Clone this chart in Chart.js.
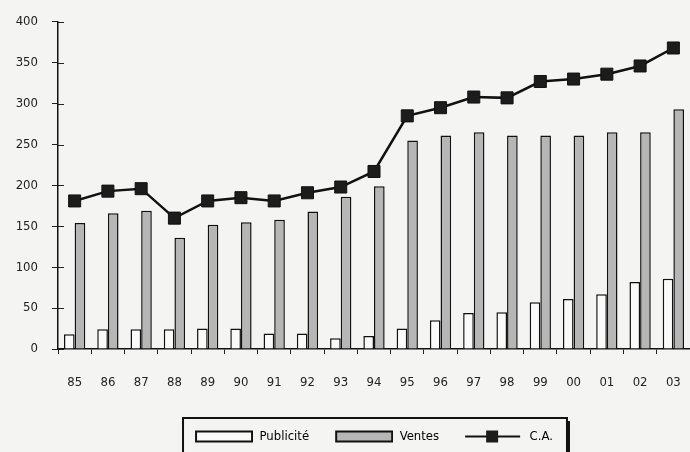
<!DOCTYPE html>
<html>
<head>
<meta charset="utf-8">
<script src="https://cdn.jsdelivr.net/npm/chart.js@4"></script>
<style>
  html, body { margin: 0; padding: 0; background: #f4f4f3; }
  canvas { display: block; }
</style>
</head>
<body>
<canvas id="chart" width="690" height="452"></canvas>
<script>
const years = ['85', '86', '87', '88', '89', '90', '91', '92', '93', '94', '95', '96', '97', '98', '99', '00', '01', '02', '03'];
const publicite = [18, 24, 24, 24, 25, 25, 19, 19, 13, 16, 25, 35, 44, 45, 57, 61, 67, 82, 86];
const ventes = [154, 166, 169, 136, 152, 155, 158, 168, 186, 199, 255, 261, 265, 261, 261, 261, 265, 265, 293];
const chiffreAffaires = [181, 193, 196, 160, 181, 185, 181, 191, 198, 217, 285, 295, 308, 307, 327, 330, 336, 346, 368];

const FONT = "'Liberation Sans Narrow', 'DejaVu Sans Condensed', sans-serif";
const GREY = '#b6b6b6';
const SWATCH_GAP = 14;

function legendSwatch(kind) {
  const c = document.createElement('canvas');
  c.width = 58 + SWATCH_GAP; c.height = 14;
  const g = c.getContext('2d');
  g.translate(SWATCH_GAP, 0);
  g.lineWidth = 2;
  g.strokeStyle = '#111';
  if (kind === 'line') {
    g.beginPath(); g.moveTo(0, 7); g.lineTo(55, 7); g.stroke();
    g.fillStyle = '#1c1c1c';
    g.fillRect(21, 1, 12, 12);
  } else {
    g.fillStyle = kind === 'white' ? '#fafafa' : GREY;
    g.fillRect(1, 2, 56, 10);
    g.strokeRect(1, 2, 56, 10);
  }
  return c;
}

// inner half of the y tick marks (ticks cross the axis in the original)
const innerTicks = {
  id: 'innerTicks',
  afterDatasetsDraw(chart) {
    const y = chart.scales.y;
    const ctx = chart.ctx;
    ctx.save();
    ctx.strokeStyle = '#222';
    ctx.lineWidth = 1;
    y.ticks.forEach(t => {
      const py = Math.round(y.getPixelForValue(t.value)) + 0.5;
      ctx.beginPath();
      ctx.moveTo(y.right, py);
      ctx.lineTo(y.right + 6, py);
      ctx.stroke();
    });
    ctx.restore();
  }
};

const legendFrame = {
  id: 'legendFrame',
  beforeInit(chart) {
    const fit = chart.legend.fit;
    chart.legend.fit = function() { fit.call(this); this.height = 34; };
  },
  afterLayout(chart) {
    chart.legend.left += 22;
    chart.legend.right += 22;
  },
  afterDraw(chart) {
    const boxes = chart.legend.legendHitBoxes;
    if (!boxes || !boxes.length) return;
    const ctx = chart.ctx;
    const x0 = boxes[0].left + SWATCH_GAP - 12;
    const last = boxes[boxes.length - 1];
    const x1 = last.left + last.width + 14;
    const y0 = chart.legend.top;
    ctx.save();
    ctx.strokeStyle = '#111';
    ctx.lineWidth = 2;
    ctx.strokeRect(x0, y0, x1 - x0, 40);
    ctx.fillStyle = '#111';
    ctx.fillRect(x1, y0 + 3, 3, 40);
    ctx.restore();
  }
};

new Chart(document.getElementById('chart'), {
  data: {
    labels: years,
    datasets: [
      {
        type: 'bar', label: 'Publicité', data: publicite,
        backgroundColor: '#fafafa', borderColor: '#111', borderWidth: 1.5, order: 1
      },
      {
        type: 'bar', label: 'Ventes', data: ventes,
        backgroundColor: GREY, borderColor: '#111', borderWidth: 1.5, order: 1
      },
      {
        type: 'line', label: 'C.A.', data: chiffreAffaires,
        borderColor: '#111', borderWidth: 2.5, tension: 0,
        pointStyle: 'rect', pointRadius: 8.5, pointBackgroundColor: '#1c1c1c',
        pointBorderColor: '#111', pointBorderWidth: 1, order: 0
      }
    ]
  },
  options: {
    responsive: false,
    animation: false,
    layout: { autoPadding: false, padding: { top: 19, left: 0, right: 0, bottom: 0 } },
    datasets: { bar: { barPercentage: 1, categoryPercentage: 0.64 } },
    scales: {
      x: {
        grid: { display: true, offset: true, drawOnChartArea: false, tickLength: 5, color: '#222', tickWidth: 1 },
        border: { display: true, color: '#111', width: 1.5 },
        ticks: { font: { family: FONT, size: 13 }, color: '#222', padding: 21 },
        afterFit(scale) {
          scale.height = 69;
          scale.paddingLeft = 0;
          scale.paddingRight = 0;
        }
      },
      y: {
        min: 0, max: 400,
        grid: { display: true, drawOnChartArea: false, tickLength: 6, color: '#222' },
        border: { display: true, color: '#111', width: 1.5 },
        ticks: { stepSize: 50, font: { family: FONT, size: 13 }, color: '#222', padding: 14 },
        afterFit(scale) { scale.width = 58; }
      }
    },
    plugins: {
      tooltip: { enabled: false },
      legend: {
        position: 'bottom',
        labels: {
          usePointStyle: true,
          pointStyleWidth: 58 + SWATCH_GAP,
          boxHeight: 12,
          padding: 12,
          color: '#222',
          font: { family: FONT, size: 13 },
          generateLabels: function(chart) {
            const swatches = ['white', 'grey', 'line'];
            return chart.data.datasets.map((ds, i) => ({
              text: ds.label,
              pointStyle: legendSwatch(swatches[i]),
              fillStyle: 'transparent',
              strokeStyle: 'transparent',
              lineWidth: 0,
              hidden: false,
              datasetIndex: i
            }));
          }
        }
      }
    }
  },
  plugins: [innerTicks, legendFrame]
});
</script>
</body>
</html>
